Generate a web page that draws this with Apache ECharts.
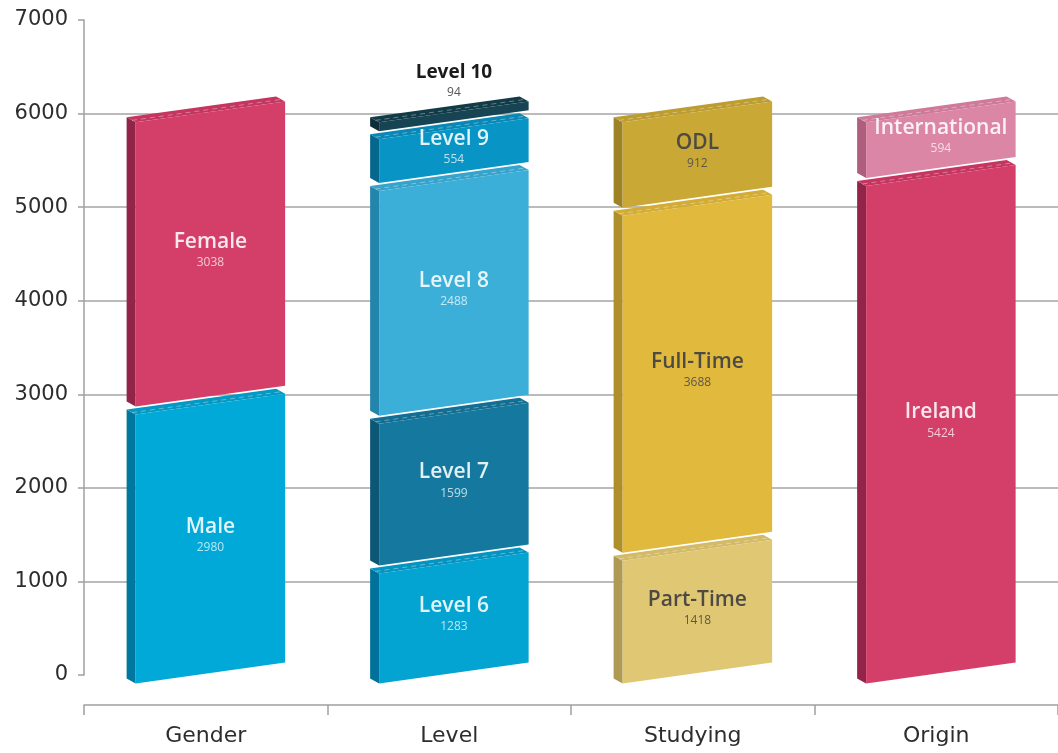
<!DOCTYPE html>
<html>
<head>
<meta charset="utf-8">
<title>Students</title>
<script src="https://cdn.jsdelivr.net/npm/echarts@6/dist/echarts.min.js"></script>
<style>
  html, body { margin: 0; padding: 0; background: #ffffff; }
  #chart { width: 1058px; height: 753px; }
</style>
</head>
<body>
<div id="chart"></div>
<script>
// ---- data ----
const categories = ['Gender', 'Level', 'Studying', 'Origin'];

const genderNames = ['Male', 'Female'];
const genderValues = [2980, 3038];

const levelNames = ['Level 6', 'Level 7', 'Level 8', 'Level 9', 'Level 10'];
const levelValues = [1283, 1599, 2488, 554, 94];

const studyingNames = ['Part-Time', 'Full-Time', 'ODL'];
const studyingValues = [1418, 3688, 912];

const originNames = ['Ireland', 'International'];
const originValues = [5424, 594];

const yMin = 0;
const yMax = 7000;
const yStep = 1000;

// ---- styles: front face, left side, top face, title and number colours ----
const LIGHT = 'rgba(255,255,255,0.88)';
const LIGHT_NUM = 'rgba(255,255,255,0.72)';
const DARK = '#4d4a44';
const DARK_NUM = '#5e574a';

const palettes = [
  [ // Gender
    { face: '#00A9D7', side: '#00779E', top: '#0399C4', title: LIGHT, num: LIGHT_NUM },
    { face: '#D43F69', side: '#922349', top: '#C53560', title: LIGHT, num: LIGHT_NUM }
  ],
  [ // Level
    { face: '#03A3D2', side: '#00719A', top: '#0494C2', title: LIGHT, num: LIGHT_NUM },
    { face: '#15799F', side: '#0C5676', top: '#126E92', title: LIGHT, num: LIGHT_NUM },
    { face: '#3BAFD8', side: '#2385AB', top: '#35A3CB', title: LIGHT, num: LIGHT_NUM },
    { face: '#0895C5', side: '#05678E', top: '#0788B6', title: LIGHT, num: LIGHT_NUM },
    { face: '#164453', side: '#0D2D38', top: '#123B48', title: '#1b1b1b', num: '#555555', outside: true }
  ],
  [ // Studying
    { face: '#E0C774', side: '#AE9A55', top: '#D3BA66', title: DARK, num: DARK_NUM },
    { face: '#E0B93D', side: '#AE8F2A', top: '#D2AC35', title: DARK, num: DARK_NUM },
    { face: '#CAA835', side: '#9D8226', top: '#BD9C30', title: DARK, num: DARK_NUM }
  ],
  [ // Origin
    { face: '#D43F69', side: '#922349', top: '#C53560', title: LIGHT, num: LIGHT_NUM },
    { face: '#DC86A5', side: '#AE5F7D', top: '#D07A99', title: LIGHT, num: LIGHT_NUM }
  ]
];

// ---- stacked segments built from the arrays above ----
const groups = [
  [genderNames, genderValues],
  [levelNames, levelValues],
  [studyingNames, studyingValues],
  [originNames, originValues]
];

const segments = [];
groups.forEach(function (g, ci) {
  let acc = 0;
  g[1].forEach(function (v, i) {
    segments.push({
      value: [ci, acc, acc + v],
      name: g[0][i],
      amount: v,
      ci: ci,
      i: i,
      isTop: i === g[1].length - 1
    });
    acc += v;
  });
});

const FONT = '"Open Sans", "Noto Sans", sans-serif';
const AXIS_FONT = '"DejaVu Sans", "Open Sans", sans-serif';

function renderItem(params, api) {
  const seg = segments[params.dataIndex];
  const st = palettes[seg.ci][seg.i];
  const base = api.coord([seg.value[0], seg.value[1]]);
  const top = api.coord([seg.value[0], seg.value[2]]);
  const band = api.size([1, 0])[0];

  const halfW = band * 0.307;
  const cx = base[0] + band * 0.019;
  const tilt = halfW * 0.14;      // front face rises to the right
  const dx = -9, dy = -5;         // depth of the block (back-left)
  const gap = seg.isTop ? 0 : 8;  // white split above each lower block

  const yb = base[1] - (seg.value[1] === 0 ? 2 : 0);
  const yt = top[1] + gap;
  const L = cx - halfW, R = cx + halfW;

  const front = [[L, yb + tilt], [R, yb - tilt], [R, yt - tilt], [L, yt + tilt]];
  const side = [[L, yb + tilt], [L, yt + tilt], [L + dx, yt + tilt + dy], [L + dx, yb + tilt + dy]];
  const lid = [[L, yt + tilt], [R, yt - tilt], [R + dx, yt - tilt + dy], [L + dx, yt + tilt + dy]];

  const children = [
    { type: 'polygon', shape: { points: side }, style: { fill: st.side } },
    { type: 'polygon', shape: { points: lid }, style: { fill: st.top } },
    { type: 'polygon', shape: { points: front }, style: { fill: st.face } },
    {
      type: 'line',
      shape: { x1: L + dx * 0.4, y1: yt + tilt + dy * 0.4, x2: R + dx * 0.4, y2: yt - tilt + dy * 0.4 },
      style: { stroke: 'rgba(255,255,255,0.35)', lineWidth: 1, lineDash: [5, 4] }
    }
  ];

  const mid = (yb + yt) / 2;
  let titleY, numY, titleFont;
  if (st.outside) {
    titleY = mid - 44;
    numY = mid - 24;
    titleFont = '700 19px ' + FONT;
  } else {
    titleY = mid - 12;
    numY = mid + 9;
    titleFont = '600 21px ' + FONT;
  }
  children.push({
    type: 'text',
    style: {
      text: seg.name, x: cx, y: titleY, fill: st.title, font: titleFont,
      textAlign: 'center', textVerticalAlign: 'middle'
    }
  });
  children.push({
    type: 'text',
    style: {
      text: String(seg.amount), x: cx, y: numY, fill: st.num, font: '400 12px ' + FONT,
      textAlign: 'center', textVerticalAlign: 'middle'
    }
  });

  return { type: 'group', children: children };
}

const chart = echarts.init(document.getElementById('chart'), null, { renderer: 'canvas' });

chart.setOption({
  animation: false,
  backgroundColor: '#ffffff',
  grid: { left: 84, right: -6, top: 20, bottom: 78, containLabel: false },
  xAxis: {
    type: 'category',
    data: categories,
    offset: 30,
    axisLine: { show: true, onZero: false, lineStyle: { color: '#a0a0a0', width: 1.5 } },
    axisTick: { show: true, length: 10, lineStyle: { color: '#a0a0a0', width: 1.5 } },
    axisLabel: { color: '#2d2d2d', fontSize: 22, fontFamily: AXIS_FONT, margin: 20 },
    splitLine: { show: false }
  },
  yAxis: {
    type: 'value',
    min: yMin,
    max: yMax,
    interval: yStep,
    axisLine: { show: true, lineStyle: { color: '#a0a0a0', width: 1.5 } },
    axisTick: { show: true, length: 6, lineStyle: { color: '#a0a0a0', width: 1.5 } },
    axisLabel: {
      color: '#2d2d2d', fontSize: 21, fontFamily: AXIS_FONT, margin: 16,
      formatter: function (v) { return String(v); }
    },
    splitLine: {
      show: true,
      showMinLine: false,
      showMaxLine: false,
      lineStyle: { color: '#a5a5a5', width: 1.5 }
    }
  },
  series: [{
    type: 'custom',
    coordinateSystem: 'cartesian2d',
    clip: false,
    renderItem: renderItem,
    encode: { x: 0, y: [1, 2] },
    data: segments.map(function (s) { return s.value; })
  }]
});
</script>
</body>
</html>
